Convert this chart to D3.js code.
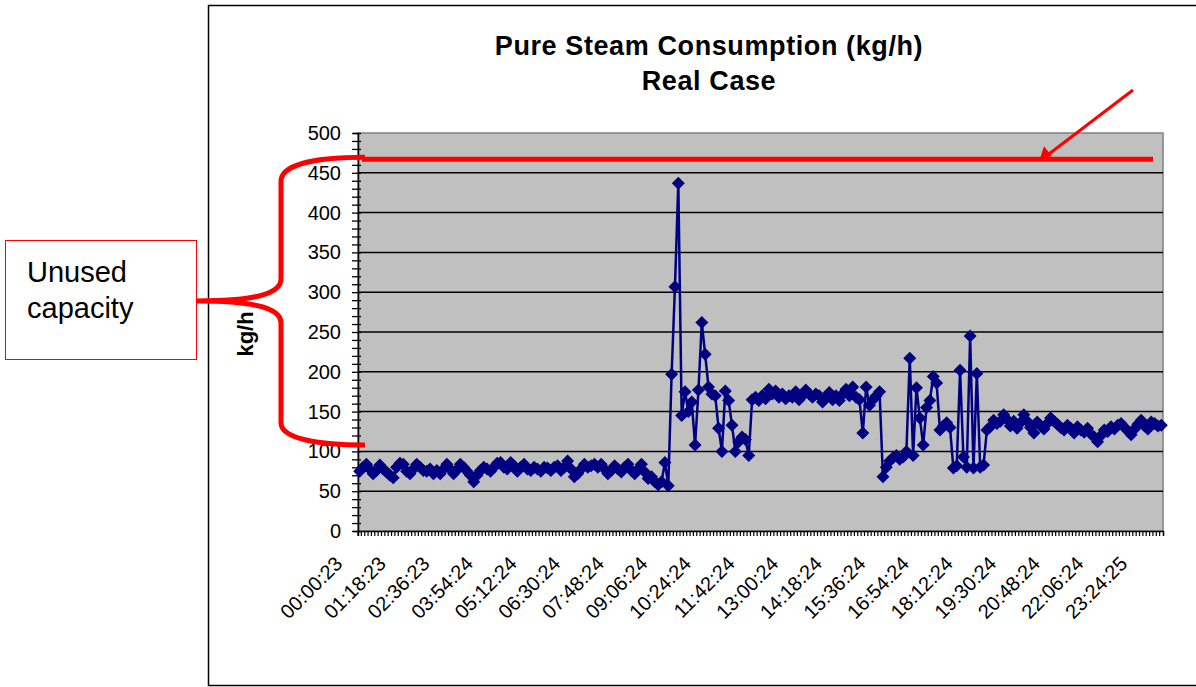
<!DOCTYPE html>
<html>
<head>
<meta charset="utf-8">
<script src="https://d3js.org/d3.v7.min.js"></script>
<style>
  body { margin: 0; background: #fff; }
  svg { display: block; }
  text { font-family: "Liberation Sans", Arial, sans-serif; }
</style>
</head>
<body>
<svg id="chart" width="1196" height="687"></svg>
<script>
// Pure steam consumption, one reading every 6 minutes (240 readings)
const steam = [
  75, 80, 84, 78, 72, 76, 83, 78, 74, 70,
  67, 80, 85, 84, 75, 72, 78, 84, 80, 76,
  75, 78, 72, 76, 72, 78, 84, 78, 72, 77,
  84, 80, 75, 70, 62, 70, 76, 80, 78, 75,
  80, 85, 86, 80, 78, 86, 82, 75, 80, 84,
  78, 76, 80, 78, 75, 80, 79, 76, 80, 82,
  76, 80, 88, 78, 68, 72, 78, 84, 80, 82,
  84, 80, 84, 78, 72, 76, 82, 78, 74, 80,
  84, 76, 72, 78, 84, 74, 66, 68, 62, 58,
  62, 86, 57, 197, 307, 437, 145, 175, 150, 162,
  108, 177, 262, 222, 181, 172, 170, 129, 100, 176,
  164, 133, 100, 112, 118, 115, 95, 165, 168, 164,
  170, 166, 178, 172, 176, 168, 172, 166, 170, 168,
  175, 165, 170, 177, 172, 168, 172, 170, 162, 168,
  174, 165, 170, 164, 172, 178, 170, 181, 168, 165,
  123, 181, 158, 165, 170, 175, 68, 80, 88, 92,
  95, 90, 93, 100, 217, 95, 180, 142, 108, 155,
  164, 194, 186, 127, 132, 136, 130, 79, 82, 202,
  93, 80, 245, 79, 198, 80, 83, 127, 131, 139,
  135, 138, 146, 140, 132, 138, 129, 136, 146, 138,
  130, 123, 137, 132, 128, 135, 142, 138, 134, 130,
  127, 133, 129, 123, 131, 127, 124, 129, 122, 118,
  112, 120, 127, 125, 131, 128, 133, 135, 130, 126,
  121, 128, 134, 139, 132, 128, 137, 135, 132, 133
];

// category axis labels, one every 13 readings
const tickLabels = [
  "00:00:23", "01:18:23", "02:36:23", "03:54:24", "05:12:24", "06:30:24",
  "07:48:24", "09:06:24", "10:24:24", "11:42:24", "13:00:24", "14:18:24",
  "15:36:24", "16:54:24", "18:12:24", "19:30:24", "20:48:24", "22:06:24",
  "23:24:25"
];
const labelStep = 13;

const yMajor = [0, 50, 100, 150, 200, 250, 300, 350, 400, 450, 500];
const capacity = 467;     // red line: installed capacity
const braceLow = 108;     // bottom of the "unused capacity" brace

const svg = d3.select("#chart");
const plot = { left: 358, right: 1163, top: 133, bottom: 531 };

const x = d3.scaleBand()
  .domain(d3.range(steam.length))
  .range([plot.left, plot.right])
  .padding(0);

const y = d3.scaleLinear()
  .domain([0, 500])
  .range([plot.bottom, plot.top]);

const cx = i => x(i) + x.bandwidth() / 2;

// outer chart frame
svg.append("rect")
  .attr("x", 208.5).attr("y", 5.5)
  .attr("width", 1100).attr("height", 680)
  .attr("fill", "#fff")
  .attr("stroke", "#000")
  .attr("stroke-width", 1.5);

// plot background
svg.append("rect")
  .attr("x", plot.left).attr("y", plot.top)
  .attr("width", plot.right - plot.left)
  .attr("height", plot.bottom - plot.top)
  .attr("fill", "#c0c0c0")
  .attr("stroke", "#808080")
  .attr("stroke-width", 1.5);

// gridlines
svg.append("g")
  .selectAll("line")
  .data(yMajor.filter(v => v > 0 && v < 500))
  .join("line")
  .attr("x1", plot.left).attr("x2", plot.right)
  .attr("y1", d => y(d)).attr("y2", d => y(d))
  .attr("stroke", "#000")
  .attr("stroke-width", 1.5);

// title
const title = svg.append("text")
  .attr("text-anchor", "middle")
  .attr("font-size", 27)
  .attr("font-weight", "bold")
  .attr("letter-spacing", 0.6)
  .attr("fill", "#000");
title.append("tspan").attr("x", 709).attr("y", 55).text("Pure Steam Consumption (kg/h)");
title.append("tspan").attr("x", 709).attr("y", 90).text("Real Case");

// y axis (minor ticks every 10, labels every 50)
const yAxis = svg.append("g")
  .attr("transform", `translate(${plot.left},0)`)
  .call(d3.axisLeft(y)
    .tickValues(d3.range(0, 501, 10))
    .tickSize(5)
    .tickFormat(d => d % 50 === 0 ? d : ""));
yAxis.select(".domain").attr("stroke", "#000").attr("stroke-width", 1.5);
yAxis.selectAll(".tick line").attr("x2", -6).attr("x1", 3).attr("stroke", "#000").attr("stroke-width", 1.3);
yAxis.selectAll(".tick text")
  .attr("x", -17)
  .attr("font-size", 20)
  .attr("font-family", "'Liberation Sans', Arial, sans-serif")
  .attr("fill", "#000");

svg.append("text")
  .attr("transform", "translate(253,334) rotate(-90)")
  .attr("text-anchor", "middle")
  .attr("font-size", 22)
  .attr("font-weight", "bold")
  .text("kg/h");

// x axis: a tick between every category
const xTicks = svg.append("g")
  .attr("transform", `translate(0,${plot.bottom})`)
  .call(d3.axisBottom(x)
    .tickValues(d3.range(steam.length))
    .tickSize(5)
    .tickFormat(""));
xTicks.select(".domain").attr("stroke", "#000").attr("stroke-width", 1.5);
xTicks.selectAll(".tick").attr("transform", d => `translate(${x(d)},0)`);
xTicks.selectAll(".tick line").attr("stroke", "#000").attr("stroke-width", 1.2);

// x labels every 13 categories
const xLabels = svg.append("g")
  .attr("transform", `translate(0,${plot.bottom})`)
  .call(d3.axisBottom(x)
    .tickValues(d3.range(0, steam.length, labelStep))
    .tickSize(0)
    .tickFormat(d => tickLabels[d / labelStep]));
xLabels.select(".domain").remove();
xLabels.selectAll(".tick text")
  .attr("x", 0).attr("y", 0).attr("dy", "0.35em")
  .attr("transform", "translate(-21,29) rotate(-45)")
  .attr("text-anchor", "end")
  .attr("font-size", 20)
  .attr("font-family", "'Liberation Sans', Arial, sans-serif")
  .attr("fill", "#000");

// series line + diamond markers
const line = d3.line()
  .x((d, i) => cx(i))
  .y(d => y(d));

svg.append("path")
  .datum(steam)
  .attr("d", line)
  .attr("fill", "none")
  .attr("stroke", "#000080")
  .attr("stroke-width", 2.5);

svg.append("g")
  .selectAll("path")
  .data(steam)
  .join("path")
  .attr("d", "M0,-6.5L6.5,0L0,6.5L-6.5,0Z")
  .attr("transform", (d, i) => `translate(${cx(i)},${y(d)})`)
  .attr("fill", "#000080");

// red annotation: capacity line
const red = "#ff0000";
svg.append("line")
  .attr("x1", 362).attr("x2", 1153)
  .attr("y1", y(capacity)).attr("y2", y(capacity))
  .attr("stroke", red)
  .attr("stroke-width", 5);

// arrow pointing at the capacity line
svg.append("line")
  .attr("x1", 1133).attr("y1", 90)
  .attr("x2", 1046).attr("y2", y(capacity) - 3)
  .attr("stroke", red)
  .attr("stroke-width", 3);
svg.append("path")
  .attr("d", `M1040,${y(capacity) - 1} l4,-12 l8,10 Z`)
  .attr("fill", red);

// brace spanning the unused capacity
const yTop = y(capacity) - 2, yBot = y(braceLow), yMid = 301;
svg.append("path")
  .attr("d", `M365,${yTop} C320,${yTop} 281,${yTop + 6} 281,${yTop + 24}
              L281,${yMid - 22} C281,${yMid - 6} 250,${yMid} 197,${yMid}
              C250,${yMid} 281,${yMid + 6} 281,${yMid + 22}
              L281,${yBot - 22} C281,${yBot - 6} 320,${yBot} 365,${yBot}`)
  .attr("fill", "none")
  .attr("stroke", red)
  .attr("stroke-width", 5);

// label box
svg.append("rect")
  .attr("x", 5.5).attr("y", 240.5)
  .attr("width", 191).attr("height", 119)
  .attr("fill", "#fff")
  .attr("stroke", red)
  .attr("stroke-width", 1);
const note = svg.append("text")
  .attr("font-size", 29)
  .attr("fill", "#000");
note.append("tspan").attr("x", 27).attr("y", 282).text("Unused");
note.append("tspan").attr("x", 27).attr("y", 318).text("capacity");
</script>
</body>
</html>
